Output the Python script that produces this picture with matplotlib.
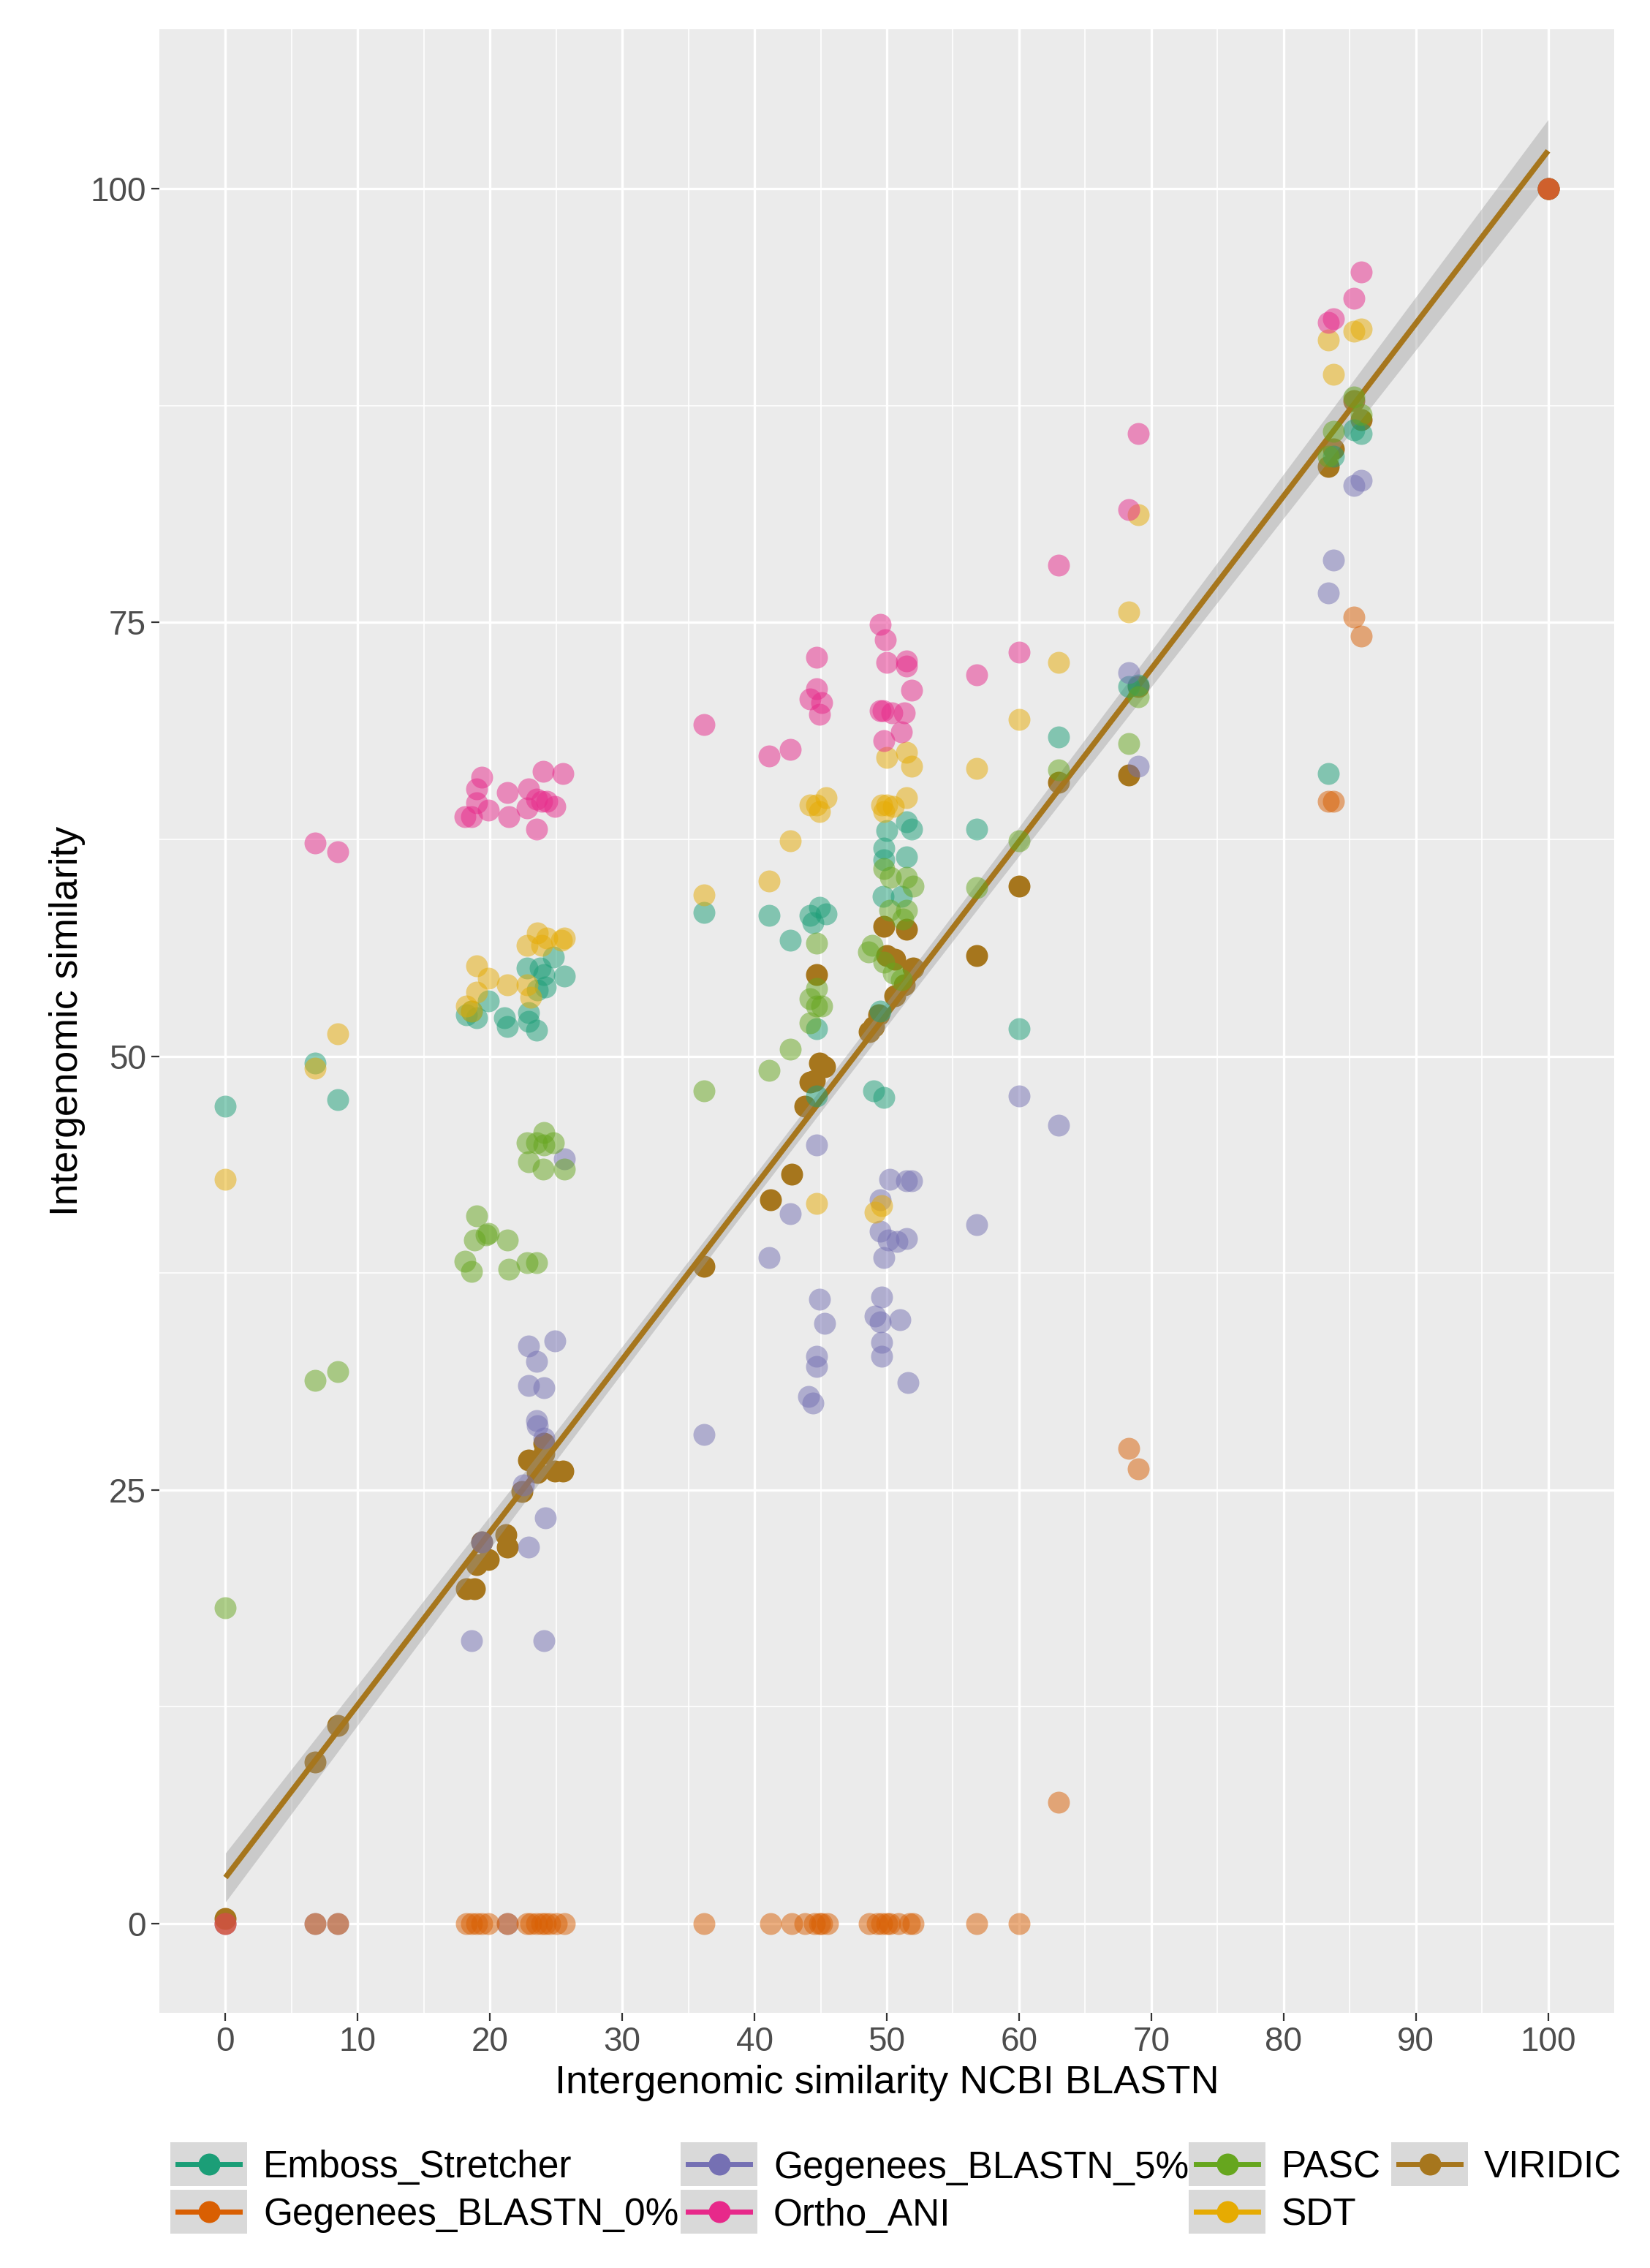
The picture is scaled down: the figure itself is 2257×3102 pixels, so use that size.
import numpy as np
import matplotlib
matplotlib.use("Agg")
import matplotlib.pyplot as plt
from matplotlib.patches import Rectangle
from matplotlib.lines import Line2D

plt.rcParams['font.family'] = ['Liberation Sans', 'DejaVu Sans']

# ---------------- data ----------------
methods = ["Emboss_Stretcher", "Gegenees_BLASTN_0%", "Gegenees_BLASTN_5%",
           "Ortho_ANI", "PASC", "SDT", "VIRIDIC"]
colors = ["#1B9E77", "#D95F02", "#7570B3", "#E7298A", "#66A61E", "#E6AB02", "#A6761D"]

viridic_x = [0, 6.8, 8.5, 18.2, 18.8, 19.0, 19.4, 19.9, 21.2, 21.3, 22.4, 22.9, 23.6, 24.1, 24.1,
             24.9, 25.5, 36.2, 41.2, 42.8, 43.8, 44.2, 44.5, 44.7, 44.9, 45.3, 48.7, 49.0, 49.4,
             49.8, 50.0, 50.6, 50.6, 51.3, 51.5, 52.0, 56.8, 60.0, 63.0, 68.3, 69.0, 83.4, 83.8,
             85.3, 85.9, 100]
viridic_y = [0.3, 9.3, 11.4, 19.3, 19.3, 20.7, 22.0, 21.0, 22.4, 21.7, 24.9, 26.7, 26.0, 27.1, 27.7,
             26.1, 26.1, 37.9, 41.7, 43.2, 47.1, 48.5, 48.6, 54.7, 49.6, 49.4, 51.4, 51.7, 52.4,
             57.5, 55.8, 55.6, 53.5, 54.1, 57.3, 55.1, 55.8, 59.8, 65.8, 66.2, 71.3, 84.0, 85.0,
             87.8, 86.7, 100]

emboss_x = [0, 6.8, 8.5, 18.2, 18.6, 19.0, 19.9, 21.1, 21.3, 22.8, 22.9, 22.9, 23.5, 23.6, 23.8,
            24.1, 24.2, 24.8, 25.6, 36.2, 41.1, 42.7, 44.2, 44.4, 44.7, 44.7, 44.9, 45.4, 49.0,
            49.5, 49.7, 49.8, 49.8, 49.8, 50.0, 51.1, 51.5, 51.5, 51.9, 56.8, 60.0, 63.0, 68.3,
            69.0, 83.4, 83.8, 85.3, 85.9, 100]
emboss_y = [47.1, 49.6, 47.5, 52.4, 52.6, 52.2, 53.2, 52.2, 51.7, 55.1, 52.5, 52.0, 51.5, 53.8, 55.1,
            54.7, 54.0, 55.7, 54.6, 58.3, 58.1, 56.7, 58.1, 57.7, 51.6, 47.7, 58.6, 58.2, 48.0,
            52.6, 59.2, 47.6, 62.0, 61.3, 63.0, 59.2, 63.5, 61.5, 63.1, 63.1, 51.6, 68.4, 71.3,
            71.4, 66.3, 84.6, 86.1, 85.9, 100]

geg0_x = [0, 6.8, 8.5, 18.2, 18.6, 19.0, 19.4, 19.9, 21.3, 22.8, 23.1, 23.5, 23.9, 24.2, 24.5,
          25.0, 25.6, 36.2, 41.2, 42.8, 43.8, 44.5, 44.9, 45.1, 45.5, 48.7, 49.3, 49.6, 50.0,
          50.2, 50.9, 51.7, 52.0, 56.8, 60.0, 63.0, 68.3, 69.0, 83.4, 83.8, 85.3, 85.9, 100]
geg0_y = [0, 0, 0, 0, 0, 0, 0, 0, 0, 0, 0, 0, 0, 0, 0,
          0, 0, 0, 0, 0, 0, 0, 0, 0, 0, 0, 0, 0, 0,
          0, 0, 0, 0, 0, 0, 7.0, 27.4, 26.2, 64.7, 64.7, 75.3, 74.2, 100]

geg5_x = [0, 6.8, 8.5, 18.6, 19.4, 21.3, 22.5, 22.9, 22.9, 22.9, 23.5, 23.5, 23.6, 24.1, 24.1,
          24.1, 24.2, 24.9, 25.6, 36.2, 41.1, 42.7, 44.1, 44.4, 44.7, 44.7, 44.7, 44.9, 45.3,
          49.1, 49.5, 49.5, 49.5, 49.6, 49.6, 49.6, 49.8, 50.1, 50.2, 50.8, 51.0, 51.5, 51.5,
          51.6, 51.9, 56.8, 60.0, 63.0, 68.3, 69.0, 83.4, 83.8, 85.3, 85.9, 100]
geg5_y = [0, 0, 0, 16.3, 22.0, 0, 25.3, 33.3, 31.0, 21.7, 32.4, 29.0, 28.7, 30.9, 28.0,
          16.3, 23.4, 33.6, 44.1, 28.2, 38.4, 40.9, 30.4, 30.0, 32.7, 32.1, 44.9, 36.0, 34.6,
          35.0, 34.7, 41.7, 39.9, 36.1, 33.5, 32.7, 38.4, 39.4, 42.9, 39.3, 34.8, 42.8, 39.5,
          31.2, 42.8, 40.3, 47.7, 46.0, 72.1, 66.7, 76.7, 78.6, 82.9, 83.2, 100]

ortho_x = [0, 6.8, 8.5, 18.1, 18.6, 19.0, 19.0, 19.4, 19.9, 21.3, 21.4, 22.8, 22.9, 23.5, 23.5,
           23.9, 24.0, 24.3, 24.9, 25.5, 36.2, 41.1, 42.7, 44.2, 44.7, 44.7, 44.9, 45.1, 49.5,
           49.5, 49.7, 49.8, 49.9, 50.0, 50.4, 51.1, 51.3, 51.5, 51.5, 51.9, 56.8, 60.0, 63.0,
           68.3, 69.0, 83.4, 83.8, 85.3, 85.9, 100]
ortho_y = [0, 62.3, 61.8, 63.8, 63.8, 65.4, 64.6, 66.1, 64.2, 65.2, 63.8, 64.3, 65.4, 64.8, 63.1,
           64.7, 66.4, 64.7, 64.4, 66.3, 69.1, 67.3, 67.7, 70.6, 73.0, 71.2, 69.7, 70.4, 74.9,
           69.9, 69.9, 68.2, 74.0, 72.7, 69.8, 68.7, 69.8, 72.8, 72.5, 71.1, 72.0, 73.3, 78.3,
           81.5, 85.9, 92.3, 92.5, 93.7, 95.2, 100]

pasc_x = [0, 6.8, 8.5, 18.1, 18.6, 18.8, 19.0, 19.7, 19.9, 21.3, 21.4, 22.8, 22.8, 22.9, 23.5,
          23.5, 24.0, 24.1, 24.1, 24.8, 25.6, 36.2, 41.1, 42.7, 44.2, 44.2, 44.7, 44.7, 44.7,
          45.1, 48.6, 48.9, 49.8, 49.8, 50.2, 50.3, 50.5, 51.1, 51.2, 51.5, 51.5, 52.0, 56.8,
          60.0, 63.0, 68.3, 69.0, 83.4, 83.8, 85.3, 85.9, 100]
pasc_y = [18.2, 31.3, 31.8, 38.2, 37.6, 39.4, 40.8, 39.7, 39.8, 39.4, 37.7, 45.0, 38.1, 43.9, 45.0,
          38.1, 43.5, 45.6, 44.9, 45.0, 43.5, 48.0, 49.2, 50.4, 53.3, 51.9, 56.5, 53.9, 52.9,
          52.9, 56.0, 56.4, 60.8, 55.4, 58.4, 60.3, 54.8, 54.4, 57.9, 60.3, 58.4, 59.8, 59.7,
          62.4, 66.5, 68.0, 70.7, 84.6, 86.0, 88.0, 87.0, 100]

sdt_x = [0, 6.8, 8.5, 18.2, 18.6, 19.0, 19.0, 19.9, 21.3, 22.8, 22.8, 23.1, 23.6, 23.9, 24.3,
         25.4, 25.6, 36.2, 41.1, 42.7, 44.2, 44.7, 44.7, 44.9, 45.4, 49.1, 49.6, 49.6, 49.8,
         50.0, 50.0, 50.5, 51.5, 51.5, 51.9, 56.8, 60.0, 63.0, 68.3, 69.0, 83.4, 83.8, 85.3,
         85.9, 100]
sdt_y = [42.9, 49.3, 51.3, 52.9, 52.6, 55.2, 53.7, 54.5, 54.1, 54.1, 56.4, 53.4, 57.1, 56.4, 56.8,
         56.7, 56.8, 59.3, 60.1, 62.4, 64.5, 64.5, 41.5, 64.1, 64.9, 41.0, 41.4, 64.5, 64.1,
         64.5, 67.2, 64.4, 64.9, 67.5, 66.7, 66.6, 69.4, 72.7, 75.6, 81.2, 91.3, 89.3, 91.8,
         91.9, 100]

series_x = [emboss_x, geg0_x, geg5_x, ortho_x, pasc_x, sdt_x, viridic_x]
series_y = [emboss_y, geg0_y, geg5_y, ortho_y, pasc_y, sdt_y, viridic_y]

x_ticks = [0, 10, 20, 30, 40, 50, 60, 70, 80, 90, 100]
y_ticks = [0, 25, 50, 75, 100]
x_label = "Intergenomic similarity NCBI BLASTN"
y_label = "Intergenomic similarity"

# ---------------- figure ----------------
W, H = 2257, 3102
fig = plt.figure(figsize=(W / 100, H / 100), dpi=100)
fig.patch.set_facecolor("white")

pl, pr, pt, pb = 218, 2208, 40, 2753
ax = fig.add_axes([pl / W, 1 - pb / H, (pr - pl) / W, (pb - pt) / H])
ax.set_facecolor("#EBEBEB")
for s in ax.spines.values():
    s.set_visible(False)
ax.set_xlim(-5, 105)
ax.set_ylim(-5.15, 109.2)
ax.set_xticks(x_ticks)
ax.set_yticks(y_ticks)
ax.set_xticks([5, 15, 25, 35, 45, 55, 65, 75, 85, 95], minor=True)
ax.set_yticks([12.5, 37.5, 62.5, 87.5], minor=True)
ax.grid(which="major", color="white", linewidth=2.4, zorder=0)
ax.grid(which="minor", color="white", linewidth=1.2, zorder=0)
ax.set_axisbelow(True)
ax.tick_params(which="major", length=8, width=1.6, color="#333333",
               labelsize=33, labelcolor="#4D4D4D", pad=5)
ax.tick_params(which="minor", length=0)

# VIRIDIC points (opaque), then regression ribbon/line, then other methods
vx = np.array(viridic_x, float)
vy = np.array(viridic_y, float)
ax.scatter(vx, vy, s=466, color=colors[6], alpha=1.0, linewidths=0, zorder=2)

n = len(vx)
b1, b0 = np.polyfit(vx, vy, 1)
resid = vy - (b0 + b1 * vx)
s_err = np.sqrt(np.sum(resid ** 2) / (n - 2))
xg = np.linspace(vx.min(), vx.max(), 200)
yg = b0 + b1 * xg
t975 = 2.015
se = s_err * np.sqrt(1 / n + (xg - vx.mean()) ** 2 / np.sum((vx - vx.mean()) ** 2))
ax.fill_between(xg, yg - t975 * se, yg + t975 * se, color="#999999", alpha=0.4,
                linewidth=0, zorder=3)
ax.plot(xg, yg, color=colors[6], linewidth=5.5, zorder=4, solid_capstyle="butt")

draw_order = [0, 2, 4, 5, 3, 1]
for i in draw_order:
    ax.scatter(series_x[i], series_y[i], s=466, color=colors[i], alpha=0.5,
               linewidths=0, zorder=5)

# axis titles
fig.text((pl + pr) / 2 / W, 1 - 2863 / H, x_label, ha="center", va="baseline",
         fontsize=39, color="black")
fig.text(92 / W, 1 - ((pt + pb) / 2) / H, y_label, ha="center", va="center",
         rotation=90, fontsize=38.5, color="black")

# ---------------- legend (manual, ggplot-like) ----------------
lax = fig.add_axes([0, 0, 1, 1])
lax.set_xlim(0, W)
lax.set_ylim(H, 0)
lax.axis("off")
col_x = [233, 931, 1626, 1903]
row_y = [2930, 2995]
kw, kh = 105, 60
layout = [(0, 0), (0, 1), (1, 0), (1, 1), (2, 0), (2, 1), (3, 0)]
legend_order = [0, 1, 2, 3, 4, 5, 6]
for (c, r), i in zip(layout, legend_order):
    x0, y0 = col_x[c], row_y[r]
    lax.add_patch(Rectangle((x0, y0), kw, kh, facecolor="#D9D9D9", edgecolor="none"))
    cy = y0 + kh / 2
    lax.add_line(Line2D([x0 + 10, x0 + kw - 10], [cy, cy], color=colors[i], linewidth=5))
    lax.plot([x0 + kw / 2], [cy], marker="o", markersize=21.6, color=colors[i],
             markeredgewidth=0)
    lax.text(x0 + 127, cy + 18.5, methods[i], ha="left", va="baseline",
             fontsize=37, color="black")

fig.savefig("out.png", dpi=100, facecolor="white")
